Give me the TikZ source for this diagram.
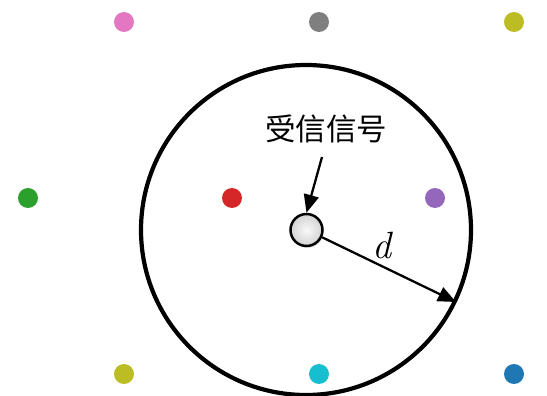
\documentclass[tikz,border=0pt]{standalone}
\usepackage{fontspec}
\newfontfamily\cjk{Noto Sans CJK SC}
\usetikzlibrary{arrows.meta,shadows}
\definecolor{cpink}{HTML}{E377C2}
\definecolor{cgray}{HTML}{7F7F7F}
\definecolor{colive}{HTML}{BCBD22}
\definecolor{cgreen}{HTML}{2CA02C}
\definecolor{cred}{HTML}{D62728}
\definecolor{cpurple}{HTML}{9467BD}
\definecolor{ccyan}{HTML}{17BECF}
\definecolor{cblue}{HTML}{1F77B4}
\begin{document}
\begin{tikzpicture}[x=1pt,y=-1pt,
  dot/.style={circle,inner sep=0pt,minimum size=20pt,draw=none},
  arr/.style={-{Triangle[length=18pt,width=15pt]},line width=2.3pt}]
\useasboundingbox (0,0) rectangle (547,396);
\node[dot,fill=cpink] (d1) at (124,22) {};
\node[dot,fill=cgray] (d2) at (319,22) {};
\node[dot,fill=colive] (d3) at (514,22) {};
\node[dot,fill=cgreen] (d4) at (28,198) {};
\node[dot,fill=cred] (d5) at (232,198) {};
\node[dot,fill=cpurple] (d6) at (435,198) {};
\node[dot,fill=colive] (d7) at (124,374) {};
\node[dot,fill=ccyan] (d8) at (319,374) {};
\node[dot,fill=cblue] (d9) at (514,374) {};
\node[circle,draw,line width=4.2pt,minimum size=330pt,inner sep=0pt] (big) at (306,230) {};
\node[circle,draw,line width=2.5pt,minimum size=32pt,inner sep=0pt,
  inner color=gray!5,outer color=gray!35,
  drop shadow={shadow xshift=1pt,shadow yshift=-2pt,opacity=0.2}] (rx) at (306.5,230) {};
\node[font=\cjk\fontsize{30.5}{34}\selectfont] (lbl) at (326,128.5) {受信信号};
\coordinate (ae) at (456,302);
\draw[arr] (322,157) -- (rx.north);
\draw[arr] (rx.-25) -- (ae);
\node[font=\fontsize{38}{42}\selectfont\itshape] (dl) at (382,246) {d};
\end{tikzpicture}
\end{document}
